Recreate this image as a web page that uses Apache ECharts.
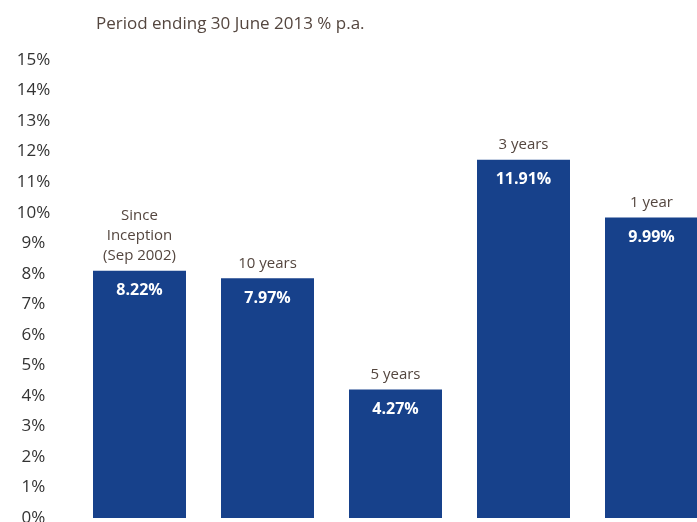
<!DOCTYPE html>
<html>
<head>
<meta charset="utf-8">
<script src="https://cdn.jsdelivr.net/npm/echarts@6/dist/echarts.min.js"></script>
<style>
  html, body { margin: 0; padding: 0; background: #fff; }
  #main { width: 697px; height: 522px; }
</style>
</head>
<body>
<div id="main"></div>
<script>
var categories = ['Since\nInception\n(Sep 2002)', '10 years', '5 years', '3 years', '1 year'];
var returns = [8.22, 7.97, 4.27, 11.91, 9.99];
var tickMin = 0;
var tickMax = 15;
var tickStep = 1;

var chart = echarts.init(document.getElementById('main'));

var option = {
	backgroundColor: '#fff',
	animation: false,
	title: {
		text: 'Period ending 30 June 2013 % p.a.',
		left: 91,
		top: 11,
		textStyle: {
			fontFamily: 'Open Sans',
			fontSize: 17,
			fontWeight: 'normal',
			color: '#54463f'
		}
	},
	grid: {
		left: 75.5,
		top: 60,
		right: -18.5,
		bottom: 4,
		outerBoundsMode: 'none',
		containLabel: false
	},
	xAxis: {
		type: 'category',
		data: categories,
		axisLine: { show: false },
		axisTick: { show: false },
		axisLabel: { show: false }
	},
	yAxis: [{
		type: 'value',
		min: tickMin,
		max: tickMax,
		interval: tickStep,
		splitLine: { show: false },
		axisLine: { show: false },
		axisTick: { show: false },
		axisLabel: {
			formatter: '{value}%',
			align: 'center',
			margin: 42,
			fontFamily: 'Open Sans',
			fontSize: 17,
			color: '#333'
		}
	}, {
		// bars in the source sit on a slightly tighter scale than the tick labels
		type: 'value',
		min: 0,
		max: 15.23,
		show: false
	}],
	series: [{
		type: 'bar',
		yAxisIndex: 1,
		data: returns,
		barWidth: 93,
		itemStyle: { color: '#17418b' },
		label: {
			show: true,
			position: 'insideTop',
			distance: 12,
			formatter: function (p) { return p.value.toFixed(2) + '%'; },
			fontFamily: 'Open Sans',
			fontSize: 16,
			fontWeight: 'bold',
			color: '#fff'
		}
	}, {
		type: 'bar',
		yAxisIndex: 1,
		data: returns,
		barWidth: 93,
		barGap: '-100%',
		itemStyle: { color: 'transparent' },
		label: {
			show: true,
			position: 'top',
			distance: 5,
			formatter: function (p) { return p.name; },
			fontFamily: 'Open Sans',
			fontSize: 15,
			lineHeight: 20,
			color: '#54463f'
		}
	}]
};
chart.setOption(option);
</script>
</body>
</html>
